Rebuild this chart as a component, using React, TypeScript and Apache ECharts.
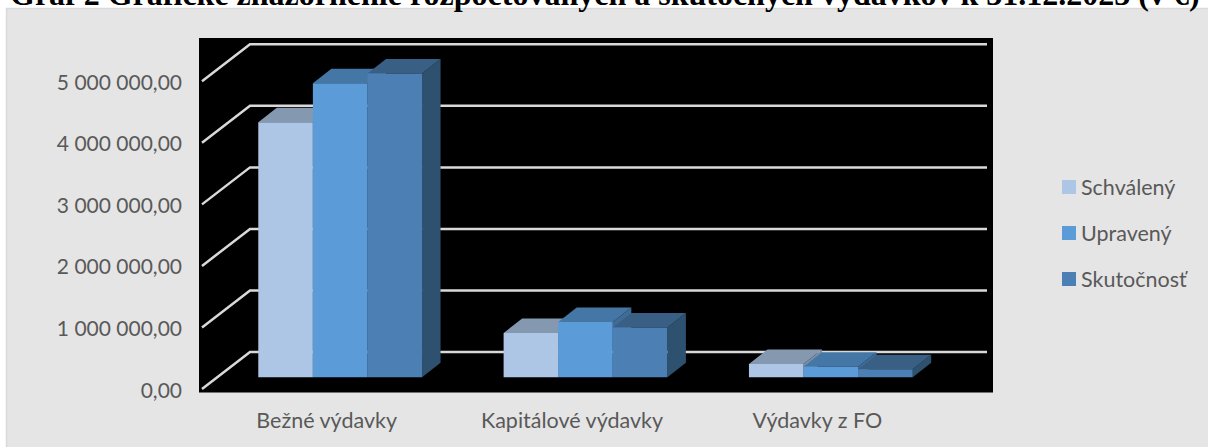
import React, { useEffect, useRef } from "react";
import * as echarts from "echarts";

const titleText = "Graf 2 Grafické znázornenie rozpočtovaných a skutočných výdavkov k 31.12.2023 (v €)";
const categories = ["Bežné výdavky", "Kapitálové výdavky", "Výdavky z FO"];
const schvaleny = [4145000, 720000, 216000];
const upraveny = [4777000, 900000, 172000];
const skutocnost = [4935000, 810000, 130000];
const gridValues = [0, 1000000, 2000000, 3000000, 4000000, 5000000];
const palette = [
  { name: "Schválený", front: "#aec6e6", top: "#8499b0", side: "#7a8ea6" },
  { name: "Upravený", front: "#5b9bd8", top: "#4577a6", side: "#3f6c97" },
  { name: "Skutočnosť", front: "#4c7fb3", top: "#3a5f85", side: "#2f5170" },
];
const font = "Lato, Carlito, Calibri, sans-serif";

const fmt = (v: number) => {
  if (v === 0) return "0,00";
  return String(v).replace(/\B(?=(\d{3})+$)/g, " ") + ",00";
};

export default function App() {
  const ref = useRef<HTMLDivElement>(null);
  useEffect(() => {
    const chart = echarts.init(ref.current!, undefined, { renderer: "svg" });
    const all = [schvaleny, upraveny, skutocnost];
    const barSeries = all.map((vals, si) => ({
      type: "custom",
      name: palette[si].name,
      z: 5 + si,
      itemStyle: { color: palette[si].front },
      encode: { x: 0, y: 1 },
      data: vals.map((v, i) => [i, v]),
      renderItem: (_p: any, api: any) => {
        const c = api.value(0);
        const v = api.value(1);
        const band = api.size([1, 0])[0];
        const w = band * 0.2225;
        const [cx, y0raw] = api.coord([c, 0]);
        const [, yraw] = api.coord([c, v]);
        const x = cx + 13.5 - 1.5 * w + si * w;
        const y0 = y0raw - 11.7;
        const y = yraw - 11.7;
        const dx = 18.5;
        const dy = 14.5;
        return {
          type: "group",
          children: [
            { type: "polygon", shape: { points: [[x + w, y], [x + w + dx, y - dy], [x + w + dx, y0 - dy], [x + w, y0]] }, style: { fill: palette[si].side } },
            { type: "polygon", shape: { points: [[x, y], [x + dx, y - dy], [x + w + dx, y - dy], [x + w, y]] }, style: { fill: palette[si].top } },
            { type: "rect", shape: { x, y, width: w, height: y0 - y }, style: { fill: palette[si].front } },
          ],
        };
      },
    }));
    const gridSeries = {
      type: "custom",
      z: 3,
      silent: true,
      encode: { x: 0, y: 1 },
      data: gridValues.map((v) => [0, v]),
      renderItem: (p: any, api: any) => {
        const y = api.coord([0, api.value(1)])[1];
        const gridLeft = p.coordSys.x;
        const gridRight = gridLeft + p.coordSys.width;
        return {
          type: "polyline",
          shape: { points: [[gridLeft - 2, y], [gridLeft + 46, y - 37], [gridRight + 47, y - 37]] },
          style: { stroke: "#d9d9d9", lineWidth: 2.5, fill: "none" },
        };
      },
    };
    chart.setOption({
      animation: false,
      backgroundColor: "#ffffff",
      title: {
        text: titleText,
        left: 5,
        top: -27,
        textStyle: { fontFamily: "'Liberation Serif', serif", fontWeight: "bold", fontSize: 32, color: "#000" },
      },
      graphic: [
        { type: "rect", z: -2, shape: { x: 6.5, y: 8.5, width: 1210, height: 448 }, style: { fill: "#e5e5e5", stroke: "#d9d9d9", lineWidth: 1.5 } },
        { type: "rect", z: -1, shape: { x: 199, y: 38, width: 794, height: 354.5 }, style: { fill: "#000000" } },
      ],
      legend: {
        orient: "vertical",
        left: 1057,
        top: 171,
        itemWidth: 14,
        itemHeight: 14,
        itemGap: 24,
        icon: "rect",
        data: palette.map((p) => p.name),
        textStyle: { fontFamily: font, fontSize: 21.5, color: "#595959" },
      },
      grid: { left: 204, top: 81.3, width: 736, height: 307.7, containLabel: false },
      xAxis: {
        type: "category",
        data: categories,
        axisLine: { show: false },
        axisTick: { show: false },
        axisLabel: { margin: 20, fontFamily: font, fontSize: 21.5, color: "#595959" },
      },
      yAxis: {
        type: "value",
        min: 0,
        max: 5000000,
        interval: 1000000,
        axisLine: { show: false },
        axisTick: { show: false },
        splitLine: { show: false },
        axisLabel: { margin: 22, fontFamily: font, fontSize: 21, color: "#595959", formatter: fmt },
      },
      series: [gridSeries, ...barSeries],
    });
    return () => chart.dispose();
  }, []);
  return <div ref={ref} style={{ position: "absolute", left: 0, top: 0, width: 1208, height: 447 }} />;
}
